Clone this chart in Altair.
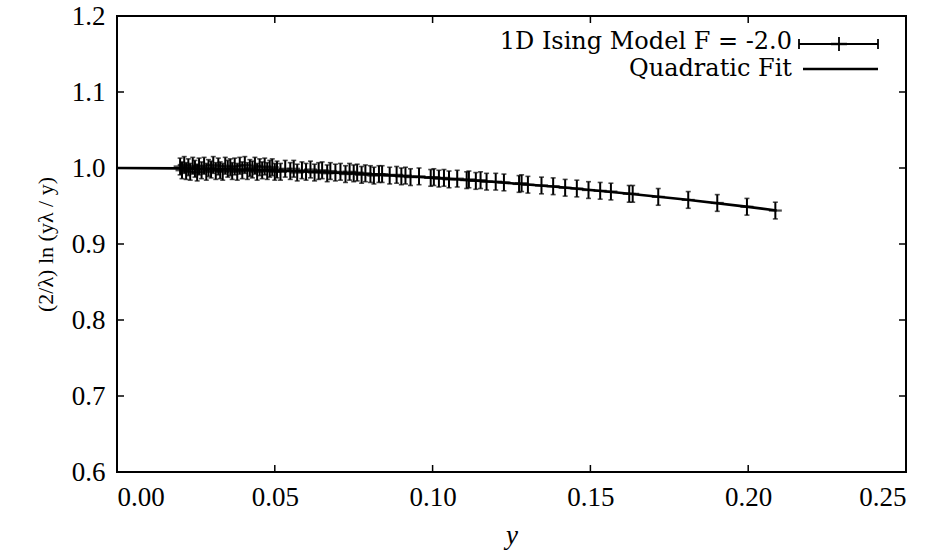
import altair as alt
import pandas as pd

# ---- data ----
XS = [0.0200, 0.0206, 0.0213, 0.0219, 0.0226, 0.0232, 0.0240, 0.0247, 0.0254, 0.0260,
      0.0268, 0.0276, 0.0283, 0.0290, 0.0298, 0.0305, 0.0313, 0.0321, 0.0327, 0.0335,
      0.0343, 0.0351, 0.0359, 0.0365, 0.0373, 0.0381, 0.0389, 0.0397, 0.0405, 0.0413,
      0.0421, 0.0429, 0.0437, 0.0444, 0.0452, 0.0460, 0.0468, 0.0476, 0.0484, 0.0492,
      0.0500,
      0.0507, 0.0518, 0.0533, 0.0549, 0.0560, 0.0571, 0.0586, 0.0599, 0.0613, 0.0626,
      0.0639, 0.0650, 0.0666, 0.0676, 0.0692, 0.0708, 0.0724, 0.0737, 0.0750, 0.0761,
      0.0775, 0.0787, 0.0803, 0.0814, 0.0830,
      0.0840, 0.0864, 0.0886, 0.0901, 0.0914, 0.0930, 0.0957, 0.0994, 0.1004, 0.1020,
      0.1036, 0.1052, 0.1078, 0.1108, 0.1115, 0.1137, 0.1152, 0.1171,
      0.1200, 0.1226, 0.1274, 0.1282, 0.1302, 0.1345, 0.1382, 0.1420, 0.1457, 0.1494,
      0.1531, 0.1565, 0.1623, 0.1634, 0.1715, 0.1810, 0.1902, 0.1996, 0.2086]
YS = [1.002, 0.997, 1.004, 0.996, 1.001, 0.995, 1.003, 0.999, 0.994, 1.002,
      0.997, 1.003, 0.995, 1.000, 0.998, 1.004, 0.996, 1.002, 0.997, 0.995,
      1.003, 0.999, 1.001, 0.996, 1.002, 0.995, 1.003, 0.997, 1.004, 0.996,
      1.000, 0.998, 1.003, 0.995, 1.001, 0.997, 1.002, 0.996, 0.999, 1.001,
      0.995,
      0.998, 0.995, 0.999, 0.996, 0.999, 0.994, 0.997, 0.995, 0.998, 0.994,
      0.996, 0.997, 0.993, 0.996, 0.994, 0.995, 0.992, 0.995, 0.993, 0.994,
      0.991, 0.993, 0.992, 0.990, 0.992,
      0.992, 0.990, 0.991, 0.989, 0.990, 0.988, 0.989, 0.987, 0.988, 0.986,
      0.987, 0.985, 0.986, 0.984, 0.985, 0.983, 0.984, 0.982,
      0.982, 0.981, 0.979, 0.980, 0.978, 0.977, 0.976, 0.974, 0.973, 0.971,
      0.970, 0.969, 0.966, 0.966, 0.962, 0.958, 0.954, 0.949, 0.944]
ERR = 0.011

FIT_X = [0.0, 0.02, 0.04, 0.06, 0.08, 0.10, 0.12, 0.14, 0.16, 0.18, 0.20, 0.209]
FIT_Y = [1.0, 0.9995, 0.998, 0.9954, 0.9918, 0.9872, 0.9816, 0.9749, 0.9672, 0.9585, 0.9488, 0.9441]

XTICKS = [0.0, 0.05, 0.10, 0.15, 0.20, 0.25]
YTICKS = [0.6, 0.7, 0.8, 0.9, 1.0, 1.1, 1.2]
LEGEND = ["1D Ising Model F = -2.0", "Quadratic Fit"]

# ---- layout ----
W, H = 789, 456
FONT = "Liberation Serif"
LFONT = "DejaVu Serif"
FS = 27

df = pd.DataFrame({"x": XS, "y": YS})
df["lo"] = df["y"] - ERR
df["hi"] = df["y"] + ERR
fit = pd.DataFrame({"x": FIT_X, "y": FIT_Y})
xt = pd.DataFrame({"t": XTICKS})
yt = pd.DataFrame({"t": YTICKS})

xs = alt.Scale(domain=[0, 0.25], nice=False, zero=False)
ys = alt.Scale(domain=[0.6, 1.2], nice=False, zero=False)

xaxis = alt.Axis(values=XTICKS, format=".2f", ticks=False, domain=False, grid=False,
                 labelFont=FONT, labelFontSize=FS, labelColor="black", labelPadding=12,
                 title="y", titleFont=FONT, titleFontSize=FS, titleFontStyle="italic",
                 titleFontWeight="normal", titleColor="black", titlePadding=12)
yaxis = alt.Axis(values=YTICKS, format=".1f", ticks=False, domain=False, grid=False,
                 labelFont=FONT, labelFontSize=FS, labelColor="black", labelPadding=12,
                 title="(2/λ) ln (yλ / y)", titleFont=FONT, titleFontSize=22,
                 titleFontWeight="normal", titleColor="black", titlePadding=14)


def X(f):
    return alt.X(f, scale=xs, axis=xaxis)


def Y(f):
    return alt.Y(f, scale=ys, axis=yaxis)


base = alt.Chart(df)
bars = base.mark_rule(color="black", strokeWidth=2).encode(
    x=X("x:Q"), y=Y("lo:Q"), y2="hi:Q")
cap_lo = base.mark_tick(color="black", orient="horizontal", size=5, thickness=1.6).encode(
    x=X("x:Q"), y=Y("lo:Q"))
cap_hi = base.mark_tick(color="black", orient="horizontal", size=5, thickness=1.6).encode(
    x=X("x:Q"), y=Y("hi:Q"))
center = base.mark_tick(color="black", orient="horizontal", size=13, thickness=2.2).encode(
    x=X("x:Q"), y=Y("y:Q"))

fitline = alt.Chart(fit).mark_line(color="black", strokeWidth=2.6, interpolate="monotone").encode(
    x=X("x:Q"), y=Y("y:Q"))

# inward ticks on all four sides
tb = alt.Chart(xt).mark_rule(color="black", strokeWidth=1.5).encode(
    x=X("t:Q"), y=alt.value(H), y2=alt.value(H - 7))
tt = alt.Chart(xt).mark_rule(color="black", strokeWidth=1.5).encode(
    x=X("t:Q"), y=alt.value(0), y2=alt.value(7))
tl = alt.Chart(yt).mark_rule(color="black", strokeWidth=1.5).encode(
    y=Y("t:Q"), x=alt.value(0), x2=alt.value(7))
tr = alt.Chart(yt).mark_rule(color="black", strokeWidth=1.5).encode(
    y=Y("t:Q"), x=alt.value(W), x2=alt.value(W - 7))

# legend (manual, gnuplot style: label left, sample right)
l1 = alt.Chart(pd.DataFrame({"label": [LEGEND[0]]})).mark_text(
    font=LFONT, fontSize=24, align="right", baseline="middle", color="black").encode(
    text="label:N", x=alt.value(675), y=alt.value(26))
l2 = alt.Chart(pd.DataFrame({"label": [LEGEND[1]]})).mark_text(
    font=LFONT, fontSize=24, align="right", baseline="middle", color="black").encode(
    text="label:N", x=alt.value(675), y=alt.value(53))
s1 = pd.DataFrame({"r": [0]})
samp_h = alt.Chart(s1).mark_rule(color="black", strokeWidth=1.8).encode(
    x=alt.value(682), x2=alt.value(761), y=alt.value(28))
samp_c1 = alt.Chart(s1).mark_rule(color="black", strokeWidth=1.8).encode(
    x=alt.value(682), y=alt.value(23), y2=alt.value(33))
samp_c2 = alt.Chart(s1).mark_rule(color="black", strokeWidth=1.8).encode(
    x=alt.value(761), y=alt.value(23), y2=alt.value(33))
samp_v = alt.Chart(s1).mark_rule(color="black", strokeWidth=1.8).encode(
    x=alt.value(722), y=alt.value(21), y2=alt.value(35))
samp_p = alt.Chart(s1).mark_rule(color="black", strokeWidth=2.4).encode(
    x=alt.value(714), x2=alt.value(730), y=alt.value(28))
samp_l = alt.Chart(s1).mark_rule(color="black", strokeWidth=2.6).encode(
    x=alt.value(686), x2=alt.value(761), y=alt.value(53))

chart = alt.layer(
    bars, fitline, cap_lo, cap_hi, center, tb, tt, tl, tr,
    l1, l2, samp_h, samp_c1, samp_c2, samp_v, samp_p, samp_l
).properties(
    width=W, height=H,
    padding={"left": 117, "top": 16, "right": 26, "bottom": 79},
    autosize=alt.AutoSizeParams(type="none"),
    background="white",
).configure_view(stroke="black", strokeWidth=2)

chart.save("out.html", embed_options={"renderer": "svg", "actions": False})
